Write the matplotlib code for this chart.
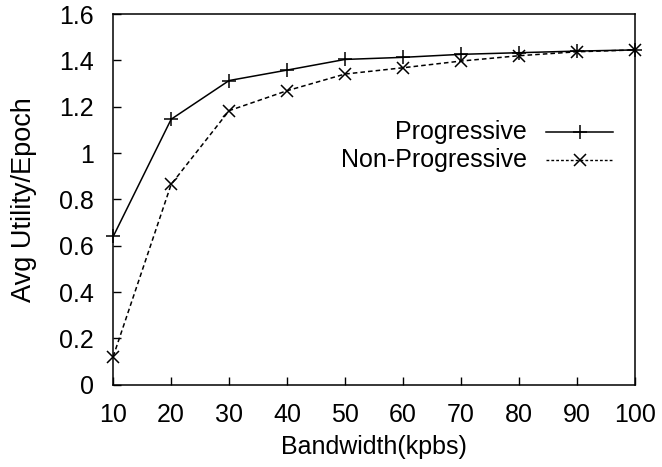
import matplotlib
matplotlib.use("Agg")
import matplotlib.pyplot as plt

plt.rcParams['font.family'] = ['Liberation Sans', 'DejaVu Sans']

bandwidth = [10, 20, 30, 40, 50, 60, 70, 80, 90, 100]
progressive = [0.64, 1.146, 1.313, 1.358, 1.404, 1.413, 1.426, 1.433, 1.44, 1.445]
non_progressive = [0.122, 0.865, 1.183, 1.269, 1.341, 1.368, 1.397, 1.42, 1.437, 1.445]

xticks = [10, 20, 30, 40, 50, 60, 70, 80, 90, 100]
yticks = [0, 0.2, 0.4, 0.6, 0.8, 1, 1.2, 1.4, 1.6]
ytick_labels = ['0', '0.2', '0.4', '0.6', '0.8', '1', '1.2', '1.4', '1.6']

fs = 18

fig = plt.figure(figsize=(6.62, 4.67), dpi=100)
ax = fig.add_axes([0.171, 0.176, 0.788, 0.794])

ax.plot(bandwidth, progressive, '-', color='black', lw=1.1,
        marker='+', ms=9.5, mew=1.1, clip_on=False)
ax.plot(bandwidth, non_progressive, color='black', lw=1.1, ls=(0, (3, 2)),
        marker='x', ms=8.5, mew=1.1, clip_on=False)

ax.set_xlim(10, 100)
ax.set_ylim(0, 1.6)
ax.set_xticks(xticks)
ax.set_yticks(yticks)
ax.set_yticklabels(ytick_labels)
ax.tick_params(direction='in', length=6, width=1, labelsize=fs)
ax.tick_params(axis='x', pad=13)
ax.tick_params(axis='y', pad=14)
ax.set_xlabel('Bandwidth(kpbs)', fontsize=fs, labelpad=6)
ax.set_ylabel('Avg Utility/Epoch', fontsize=19.5, labelpad=16)
for s in ax.spines.values():
    s.set_linewidth(1.1)

# legend drawn by hand: right-aligned labels, sample line on the right
tr = ax.transAxes
ax.text(0.793, 0.683, 'Progressive', transform=tr, ha='right', va='center', fontsize=fs)
ax.text(0.793, 0.606, 'Non-Progressive', transform=tr, ha='right', va='center', fontsize=fs)
ax.plot([0.830, 0.958], [0.683, 0.683], '-', color='black', lw=1.1, transform=tr)
ax.plot([0.894], [0.683], marker='+', ms=9.5, mew=1.1, color='black', transform=tr)
ax.plot([0.830, 0.958], [0.606, 0.606], color='black', lw=1, ls=(0, (2, 1.5)), transform=tr)
ax.plot([0.894], [0.606], marker='x', ms=8.5, mew=1.1, color='black', transform=tr)

fig.savefig('out.png', dpi=100)
